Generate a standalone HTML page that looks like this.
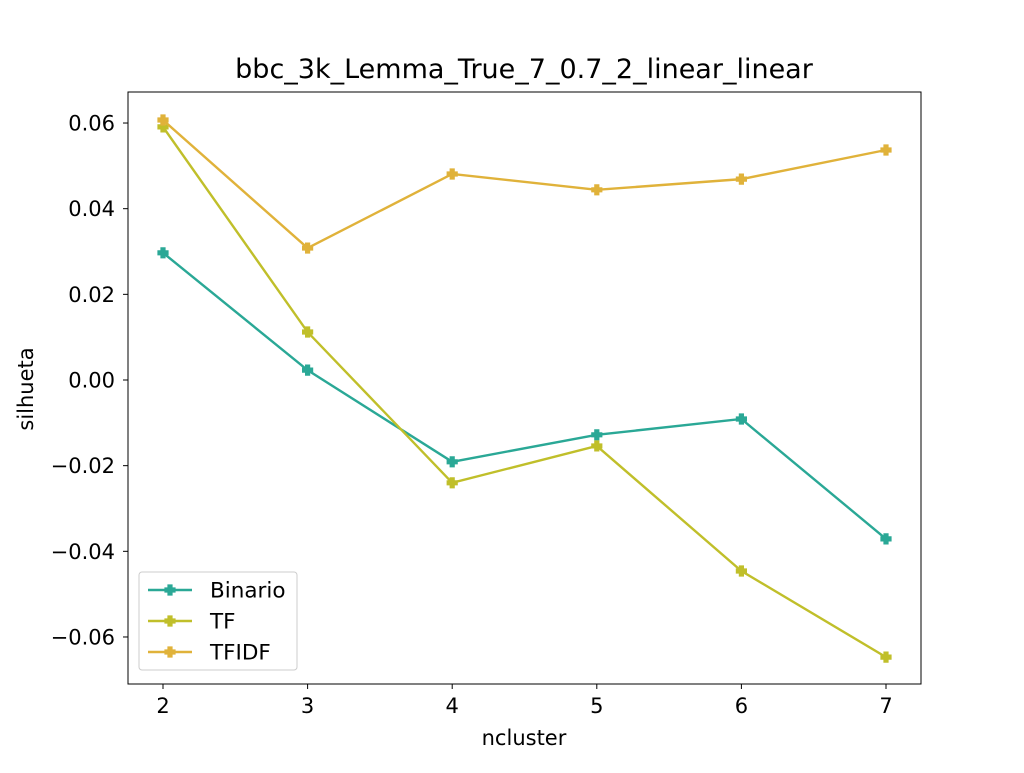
<!DOCTYPE html>
<html><head><meta charset="utf-8"><style>
body{margin:0;background:#fff;}
svg{font-family:"DejaVu Sans","Liberation Sans",sans-serif;}
</style></head><body>
<svg id="c" width="1024" height="768" xmlns="http://www.w3.org/2000/svg"></svg>
<script>
const categories=[2,3,4,5,6,7];
const binario=[0.0297,0.0023,-0.0191,-0.0128,-0.0091,-0.0371];
const tf=[0.0591,0.0112,-0.0240,-0.0154,-0.0446,-0.0647];
const tfidf=[0.0607,0.0308,0.0481,0.0444,0.0469,0.0537];
const yTicks=[-0.06,-0.04,-0.02,0.00,0.02,0.04,0.06];
const yTickLabels=["\u22120.06","\u22120.04","\u22120.02","0.00","0.02","0.04","0.06"];
const seriesNames=["Binario","TF","TFIDF"];
const colors=["#2aa896","#c0bf2a","#e0b23a"];
const NS="http://www.w3.org/2000/svg";
const svg=document.getElementById('c');
const L=128,R=921,T=92,B=684;
const x=v=>163+(v-2)*144.6;
const y=v=>380-v*4283;
function el(t,a,p){const e=document.createElementNS(NS,t);for(const k in a)e.setAttribute(k,a[k]);(p||svg).appendChild(e);return e;}
let t=el('text',{x:524,y:78,'font-size':'27','text-anchor':'middle'});t.textContent="bbc_3k_Lemma_True_7_0.7_2_linear_linear";


categories.forEach(c=>{
 el('line',{x1:x(c),x2:x(c),y1:B,y2:B+5,stroke:'#000'});
 const tx=el('text',{x:x(c),y:B+29,'font-size':'21','text-anchor':'middle'});tx.textContent=c;
 
 
});
yTicks.forEach((v,i)=>{
 el('line',{x1:L-5,x2:L,y1:y(v),y2:y(v),stroke:'#000'});
 const tx=el('text',{x:L-13,y:y(v)+7.5,'font-size':'21','text-anchor':'end'});tx.textContent=yTickLabels[i];
 
 
});
let xl=el('text',{x:524,y:745,'font-size':'21','text-anchor':'middle'});xl.textContent="ncluster";


let yl=el('text',{x:33,y:389,'font-size':'21','text-anchor':'middle',transform:'rotate(-90 33 389)'});yl.textContent="silhueta";


function marker(cx,cy,col,g){
 el('path',{d:`M${cx-2},${cy-5}h4v3h3v4h-3v3h-4v-3h-3v-4h3z`,fill:col,stroke:col,'stroke-width':1.2},g);
}
[binario,tf,tfidf].forEach((s,i)=>{
 const g=el('g',{});
 
 
 el('polyline',{points:s.map((v,j)=>x(categories[j])+','+y(v)).join(' '),fill:'none',stroke:colors[i],'stroke-width':2.4},g);
 s.forEach((v,j)=>marker(x(categories[j]),y(v),colors[i],g));
});
const frame=el('rect',{x:L,y:T,width:R-L,height:B-T,fill:'none',stroke:'#000','stroke-width':1});


const lg=el('g',{});


el('rect',{x:139,y:572,width:158,height:98,rx:3,fill:'#fff','fill-opacity':0.8,stroke:'#ccc'},lg);
seriesNames.forEach((n,i)=>{
 const yy=590+i*31;
 el('line',{x1:148,x2:192,y1:yy,y2:yy,stroke:colors[i],'stroke-width':2.4},lg);
 marker(170,yy,colors[i],lg);
 const tx=el('text',{x:210,y:yy+7.5,'font-size':'21.5'},lg);tx.textContent=n;
 
 
});
</script>
</body></html>
